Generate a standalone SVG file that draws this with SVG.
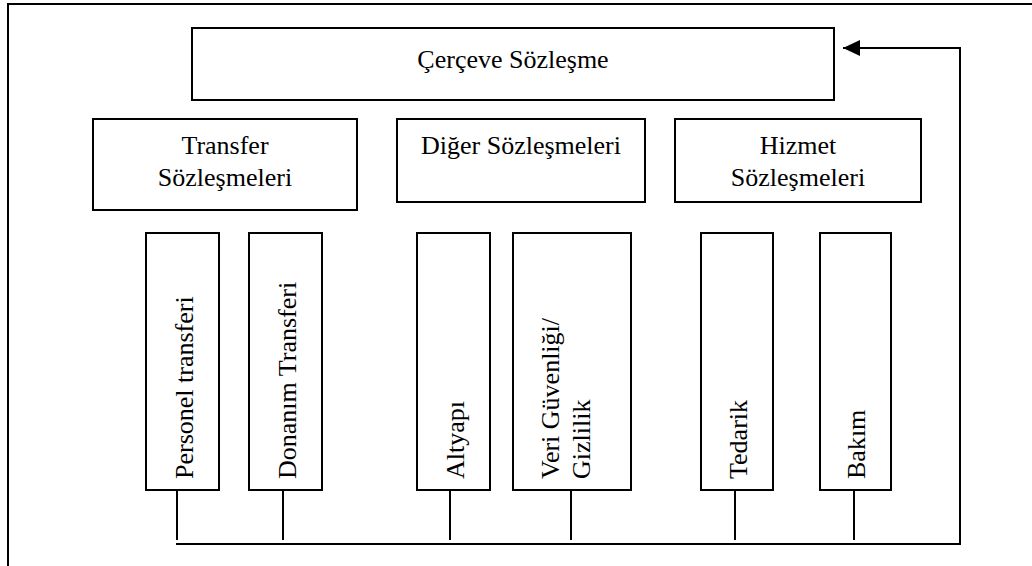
<svg xmlns="http://www.w3.org/2000/svg" width="1032" height="566" viewBox="0 0 1032 566">
<style>
.box{fill:#fff;stroke:#000;stroke-width:2}
.t{font-family:"Liberation Serif","Times New Roman",serif;font-size:26px;fill:#000}
.c{text-anchor:middle}
.ln{fill:none;stroke:#000;stroke-width:2}
</style>
<defs>
<marker id="arr" markerUnits="userSpaceOnUse" markerWidth="18" markerHeight="16" refX="17" refY="8" orient="auto">
<path d="M0,0 L17,8 L0,16 z" fill="#000"/>
</marker>
</defs>
<rect x="0" y="0" width="1032" height="566" fill="#fff"/>
<rect id="frame" x="8" y="4" width="1100" height="620" fill="none" stroke="#000" stroke-width="2"/>

<g id="cerceve">
<rect class="box" x="192" y="28" width="642" height="72"/>
<text class="t c" x="513" y="68">Çerçeve Sözleşme</text>
</g>
<g id="transfer">
<rect class="box" x="93" y="119" width="264" height="91"/>
<text class="t c" x="225" y="154">Transfer</text>
<text class="t c" x="225" y="186">Sözleşmeleri</text>
</g>
<g id="diger">
<rect class="box" x="397" y="119" width="248" height="83"/>
<text class="t c" x="521" y="154">Diğer Sözleşmeleri</text>
</g>
<g id="hizmet">
<rect class="box" x="675" y="119" width="246" height="83"/>
<text class="t c" x="798" y="154">Hizmet</text>
<text class="t c" x="798" y="186">Sözleşmeleri</text>
</g>

<g id="personel">
<rect class="box" x="146" y="233" width="73" height="257"/>
<text class="t" transform="translate(193,479) rotate(-90)">Personel transferi</text>
</g>
<g id="donanim">
<rect class="box" x="249" y="233" width="73" height="257"/>
<text class="t" transform="translate(296,479) rotate(-90)">Donanım Transferi</text>
</g>
<g id="altyapi">
<rect class="box" x="417" y="233" width="73" height="257"/>
<text class="t" transform="translate(464,479) rotate(-90)">Altyapı</text>
</g>
<g id="veri">
<rect class="box" x="513" y="233" width="118" height="257"/>
<text class="t" transform="translate(559,479) rotate(-90)">Veri Güvenliği/</text>
<text class="t" transform="translate(590,479) rotate(-90)">Gizlilik</text>
</g>
<g id="tedarik">
<rect class="box" x="701" y="233" width="72" height="257"/>
<text class="t" transform="translate(747,479) rotate(-90)">Tedarik</text>
</g>
<g id="bakim">
<rect class="box" x="820" y="233" width="71" height="257"/>
<text class="t" transform="translate(865,479) rotate(-90)">Bakım</text>
</g>

<g id="connectors">
<line class="ln" x1="177" y1="490" x2="177" y2="540"/>
<line class="ln" x1="283" y1="490" x2="283" y2="540"/>
<line class="ln" x1="450" y1="490" x2="450" y2="540"/>
<line class="ln" x1="571" y1="490" x2="571" y2="540"/>
<line class="ln" x1="735" y1="490" x2="735" y2="540"/>
<line class="ln" x1="854" y1="490" x2="854" y2="540"/>
<path class="ln" d="M176,544 H960 V48 H843" marker-end="url(#arr)"/>
</g>
</svg>
